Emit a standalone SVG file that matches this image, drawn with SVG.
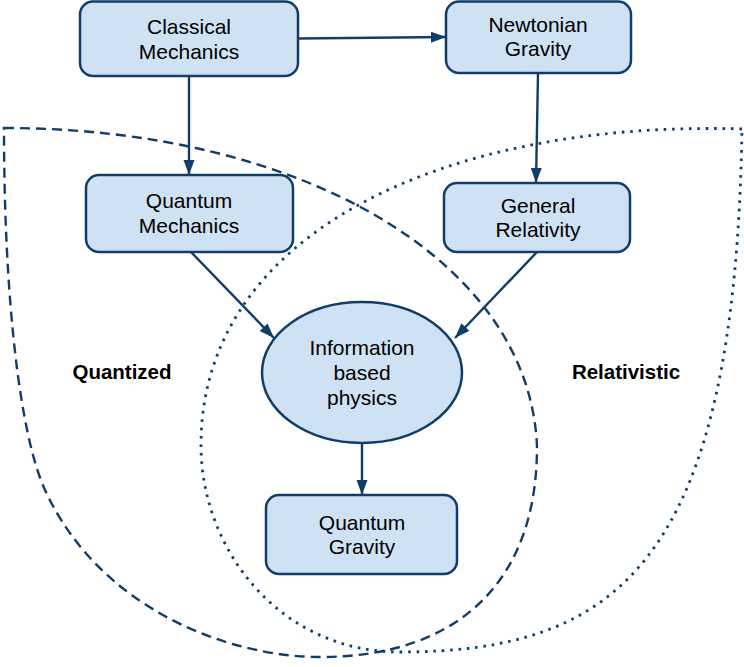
<svg xmlns="http://www.w3.org/2000/svg" width="744" height="667" viewBox="0 0 744 667">
<defs>
<style>
.node{fill:#cfe2f3;stroke:#113d69;stroke-width:2.5}
.lbl{font-family:"Liberation Sans",Arial,sans-serif;font-size:21px;fill:#000;text-anchor:middle}
.grp{font-family:"Liberation Sans",Arial,sans-serif;font-size:20.5px;font-weight:bold;fill:#000;text-anchor:middle}
.edge{stroke:#113d69;stroke-width:2.4;fill:none;marker-end:url(#ah)}
.dash{stroke:#113d69;stroke-width:2.4;fill:none;stroke-dasharray:10 6}
.dot{stroke:#113d69;stroke-width:2.8;fill:none;stroke-dasharray:2.6 5.8}
</style>
<marker id="ah" markerUnits="userSpaceOnUse" markerWidth="16" markerHeight="12" refX="15" refY="5.5" orient="auto">
<path d="M0,0 L15,5.5 L0,11 z" fill="#113d69"/>
</marker>
</defs>
<g id="regions">
<path id="quantized-region" class="dash" d="M4,128 C300,128 530,260 537,447 C537,580 460,657 320,657 C230,657 100,610 45,490 C20,435 4,300 4,128 Z"/>
<path id="relativistic-region" class="dot" d="M742,129 C450,120 201,230 201,445 C201,550 280,652 400,652 C620,652 735,560 742,129 Z"/>
</g>
<g id="connectors">
<line class="edge" x1="298" y1="38.5" x2="446" y2="37"/>
<line class="edge" x1="189" y1="76" x2="189" y2="175"/>
<line class="edge" x1="538" y1="73" x2="536" y2="183"/>
<line class="edge" x1="191" y1="252" x2="274" y2="338"/>
<line class="edge" x1="537" y1="252" x2="455" y2="338"/>
<line class="edge" x1="362" y1="443" x2="362" y2="495"/>
</g>
<g id="classical">
<rect class="node" x="80" y="1.5" width="218" height="74.5" rx="13"/>
<text class="lbl" x="189" y="34">Classical</text>
<text class="lbl" x="189" y="59">Mechanics</text>
</g>
<g id="newtonian">
<rect class="node" x="446" y="1.5" width="185" height="71.5" rx="13"/>
<text class="lbl" x="538" y="32">Newtonian</text>
<text class="lbl" x="538" y="56">Gravity</text>
</g>
<g id="quantum-mechanics">
<rect class="node" x="86" y="175" width="207" height="77" rx="13"/>
<text class="lbl" x="189" y="208">Quantum</text>
<text class="lbl" x="189" y="233">Mechanics</text>
</g>
<g id="general-relativity">
<rect class="node" x="444" y="183" width="186" height="69" rx="13"/>
<text class="lbl" x="538" y="213">General</text>
<text class="lbl" x="538" y="237">Relativity</text>
</g>
<g id="information">
<ellipse class="node" cx="362" cy="372.5" rx="100" ry="70.5"/>
<text class="lbl" x="362" y="355">Information</text>
<text class="lbl" x="362" y="380">based</text>
<text class="lbl" x="362" y="405">physics</text>
</g>
<g id="quantum-gravity">
<rect class="node" x="266" y="495" width="191" height="79" rx="13"/>
<text class="lbl" x="362" y="530">Quantum</text>
<text class="lbl" x="362" y="554">Gravity</text>
</g>
<g id="labels">
<text class="grp" x="122" y="379">Quantized</text>
<text class="grp" x="626" y="379">Relativistic</text>
</g>
</svg>
